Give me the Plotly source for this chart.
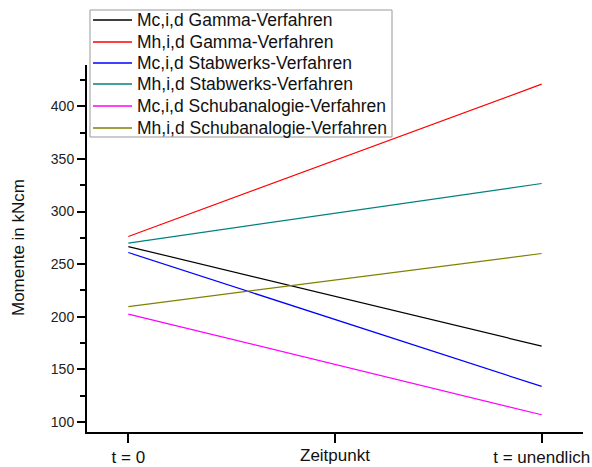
import plotly.graph_objects as go

# Data
x_pos = [0, 2]
x_tick_vals = [0, 1, 2]
x_tick_text = ["t = 0", "", "t = unendlich"]
y_tick_vals = [100, 150, 200, 250, 300, 350, 400]

series_names = [
    "Mc,i,d Gamma-Verfahren",
    "Mh,i,d Gamma-Verfahren",
    "Mc,i,d Stabwerks-Verfahren",
    "Mh,i,d Stabwerks-Verfahren",
    "Mc,i,d Schubanalogie-Verfahren",
    "Mh,i,d Schubanalogie-Verfahren",
]
mc_gamma = [266.7, 172.1]
mh_gamma = [276.2, 421.0]
mc_stab = [261.0, 133.8]
mh_stab = [270.0, 326.6]
mc_schub = [202.5, 106.9]
mh_schub = [209.7, 260.1]
series_values = [mc_gamma, mh_gamma, mc_stab, mh_stab, mc_schub, mh_schub]
colors = ["#000000", "#FF0000", "#0000FF", "#008080", "#FF00FF", "#808000"]

FONT = "Liberation Sans, Arial, sans-serif"
W, H = 592, 467
ML, MR, MT, MB = 87, 9, 65, 35
PW, PH = W - ML - MR, H - MT - MB


def px_x(p):
    return (p - ML) / PW


def px_y(p):
    return (H - MB - p) / PH


fig = go.Figure()
for name, vals, col in zip(series_names, series_values, colors):
    fig.add_trace(go.Scatter(x=x_pos, y=vals, mode="lines", name=name,
                             line=dict(color=col, width=1.2), showlegend=False))

shapes = []
annotations = []
# manual legend (box, samples, labels)
shapes.append(dict(type="rect", xref="paper", yref="paper",
                   x0=px_x(90), x1=px_x(392), y0=px_y(137), y1=px_y(10),
                   line=dict(color="#999999", width=1), fillcolor="white",
                   layer="above"))
for i, (name, col) in enumerate(zip(series_names, colors)):
    ry = round(20 + i * 21.5)
    shapes.append(dict(type="line", xref="paper", yref="paper",
                       x0=px_x(93), x1=px_x(132), y0=px_y(ry), y1=px_y(ry),
                       line=dict(color=col, width=1.5), layer="above"))
    annotations.append(dict(text=name, xref="paper", yref="paper",
                            x=px_x(135), y=px_y(ry), xanchor="left",
                            yanchor="middle", showarrow=False,
                            font=dict(family=FONT, size=17.5, color="#111111")))

annotations.append(dict(text="Zeitpunkt", x=1, xref="x", y=px_y(467),
                        yref="paper", yanchor="bottom", xanchor="center",
                        showarrow=False,
                        font=dict(family=FONT, size=17, color="#111111")))
annotations.append(dict(text="Momente in kNcm", x=px_x(18), xref="paper",
                        y=px_y(248), yref="paper", textangle=-90,
                        showarrow=False, xanchor="center", yanchor="middle",
                        font=dict(family=FONT, size=17, color="#111111")))

fig.update_layout(
    width=W, height=H,
    margin=dict(l=ML, r=MR, t=MT, b=MB, autoexpand=False),
    plot_bgcolor="white", paper_bgcolor="white",
    font=dict(family=FONT, color="#222222"),
    showlegend=False,
    xaxis=dict(range=[-0.2, 2.2], tickvals=x_tick_vals, ticktext=x_tick_text,
               automargin=False,
               showline=True, linecolor="black", linewidth=2,
               ticks="outside", ticklen=9, tickwidth=1.5, tickcolor="black",
               showgrid=False, zeroline=False, ticklabeloverflow="allow",
               ticklabelstandoff=0,
               tickfont=dict(family=FONT, size=17, color="#111111")),
    yaxis=dict(range=[90.5, 439.2], tickvals=y_tick_vals,
               automargin=False,
               showline=True, linecolor="black", linewidth=2,
               ticks="outside", ticklen=8, tickwidth=1.5, tickcolor="black",
               showgrid=False, zeroline=False, ticklabelstandoff=0,
               minor=dict(dtick=25, tick0=0, ticks="outside", ticklen=5,
                          tickwidth=1.5, tickcolor="black", showgrid=False),
               tickfont=dict(family=FONT, size=14, color="#222222")),
    shapes=shapes,
    annotations=annotations,
)

fig.write_html("out.html", config={"displayModeBar": False},
               post_script="document.documentElement.style.margin='0px';"
                           "document.body.style.margin='0px';"
                           "document.body.style.overflow='hidden';")
